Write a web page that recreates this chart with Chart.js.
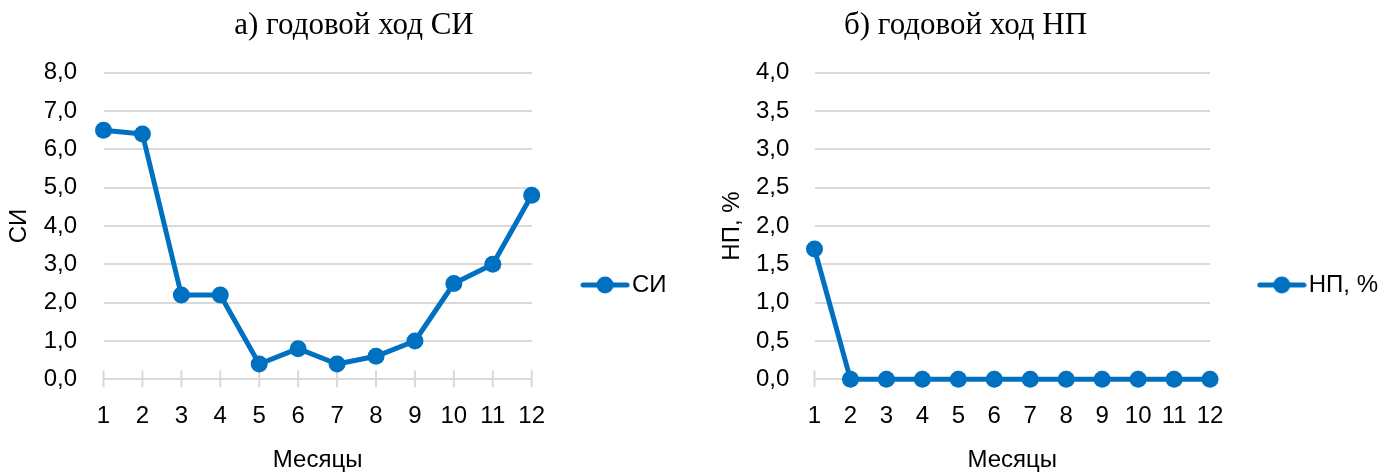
<!DOCTYPE html>
<html><head><meta charset="utf-8">
<script src="https://cdn.jsdelivr.net/npm/chart.js@4.4.1/dist/chart.umd.min.js"></script>
<style>
html,body{margin:0;padding:0;background:#fff;overflow:hidden;width:1381px;height:474px;position:relative;}
.box{position:absolute;top:0;height:474px;}
canvas{display:block;}
</style></head><body>
<div class="box" id="b1" style="left:0px;width:708px;"><canvas id="c1" width="708" height="474"></canvas></div>
<div class="box" id="b2" style="left:543px;width:845px;"><canvas id="c2" width="845" height="474"></canvas></div>
<script>
// ---- data ----
const months = ['1','2','3','4','5','6','7','8','9','10','11','12'];
const siValues = [6.5, 6.4, 2.2, 2.2, 0.4, 0.8, 0.4, 0.6, 1.0, 2.5, 3.0, 4.8];
const npValues = [1.7, 0, 0, 0, 0, 0, 0, 0, 0, 0, 0, 0];
const siTickRange = [0, 8, 1];      // min, max, step
const npTickRange = [0, 4, 0.5];
const siTitle = 'а) годовой ход СИ';
const npTitle = 'б) годовой ход НП';
const siLabel = 'СИ';
const npLabel = 'НП, %';
const xTitle = 'Месяцы';

const BLUE = '#0070C0';
const GRID = '#d9d9d9';
const sans = {family: "'Liberation Sans', Arial, sans-serif", size: 24, weight: 'normal'};
const serif = {family: "'Liberation Serif', 'Times New Roman', serif", size: 31, weight: 'normal'};

function legendIcon() {
  const c = document.createElement('canvas');
  c.width = 50; c.height = 20;
  const g = c.getContext('2d');
  g.strokeStyle = BLUE; g.lineWidth = 5; g.lineCap = 'round';
  g.beginPath(); g.moveTo(3, 10); g.lineTo(47, 10); g.stroke();
  g.fillStyle = BLUE; g.beginPath(); g.arc(25, 10, 8.5, 0, Math.PI * 2); g.fill();
  return c;
}

const crossTicks = {
  id: 'crossTicks',
  beforeDatasetsDraw(chart) {
    const xs = chart.scales.x, b = chart.chartArea.bottom, ctx = chart.ctx;
    ctx.save();
    ctx.strokeStyle = GRID; ctx.lineWidth = 2;
    xs.ticks.forEach((t, i) => {
      const px = xs.getPixelForTick(i);
      ctx.beginPath(); ctx.moveTo(px, b - 9); ctx.lineTo(px, b + 8); ctx.stroke();
    });
    ctx.restore();
  }
};

function makeChart(id, p) {
  return new Chart(document.getElementById(id), {
    type: 'line',
    data: {
      labels: months,
      datasets: [{
        label: p.label,
        data: p.values,
        yAxisID: 'y',
        borderColor: BLUE,
        backgroundColor: BLUE,
        borderWidth: 5,
        borderJoinStyle: 'round',
        borderCapStyle: 'round',
        pointRadius: 8.5,
        pointBorderWidth: 0,
        pointBackgroundColor: BLUE,
        pointHoverRadius: 8.5,
        tension: 0,
        clip: false
      }]
    },
    plugins: [crossTicks],
    options: {
      responsive: false,
      animation: false,
      events: [],
      layout: {padding: 0},
      plugins: {
        tooltip: {enabled: false},
        title: {display: true, text: p.title, font: serif, color: '#000',
                padding: {top: 7.2, bottom: 28.3}},
        legend: {
          position: 'right', align: 'center', maxWidth: 400,
          title: {display: true, text: '', padding: {top: 81.6, bottom: 0}},
          labels: {usePointStyle: true, pointStyle: legendIcon(), pointStyleWidth: 30,
                   padding: p.legendPad, font: sans, color: '#000'}
        }
      },
      scales: {
        x: {
          type: 'category', offset: false,
          grid: {display: false, drawTicks: false},
          border: {display: false},
          ticks: {font: sans, color: '#000', padding: 22.8, maxRotation: 0, autoSkip: false},
          title: {display: true, text: xTitle, font: sans, color: '#000', padding: {top: 0, bottom: -1}},
          afterFit(s) { s.height = 94.7; }
        },
        y: {
          type: 'linear', position: 'left',
          min: p.range[0], max: p.range[1],
          grid: {color: GRID, lineWidth: 2, drawTicks: false},
          border: {display: false},
          ticks: {stepSize: p.range[2], font: sans, color: '#000', padding: p.tickPad,
                  callback: v => Number(v).toFixed(1).replace('.', ',')},
          title: {display: true, text: p.label, font: sans, color: '#000',
                  padding: {top: p.titlePad, bottom: 0}},
          afterFit(s) { s.width = p.yWidth; }
        },
        pad: {
          type: 'linear', position: 'right', weight: 2000, display: true,
          grid: {display: false}, border: {display: false}, ticks: {display: false},
          afterFit(s) { s.width = p.extra; }
        }
      }
    }
  });
}

makeChart('c1', {label: siLabel, values: siValues, title: siTitle, range: siTickRange,
  yWidth: 103.5, tickPad: 26.5, titlePad: 4.6, legendPad: 58.3, extra: 31.4});
makeChart('c2', {label: npLabel, values: npValues, title: npTitle, range: npTickRange,
  yWidth: 271.5, tickPad: 25.2, titlePad: 174.6, legendPad: 56.7, extra: 0});
</script>
</body></html>
